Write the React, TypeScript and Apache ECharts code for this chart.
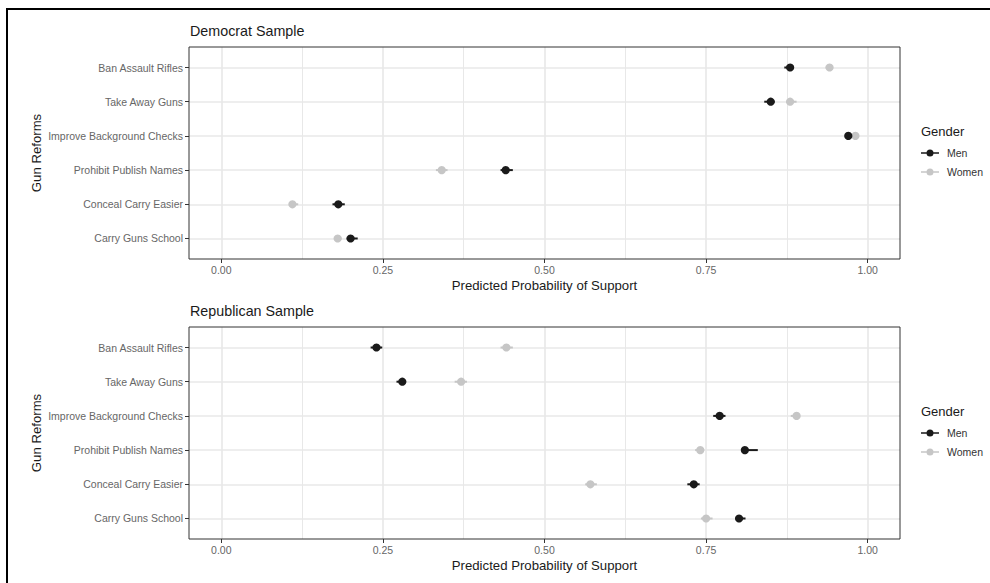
import React, { useEffect, useRef } from "react";
import * as echarts from "echarts";

// Categories, bottom to top
const categories = [
  "Carry Guns School",
  "Conceal Carry Easier",
  "Prohibit Publish Names",
  "Improve Background Checks",
  "Take Away Guns",
  "Ban Assault Rifles",
];
const xTickLabels = ["0.00", "0.25", "0.50", "0.75", "1.00"];
const panelTitles = ["Democrat Sample", "Republican Sample"];
const groups = ["Men", "Women"];

// Democrat sample
const demMenEst = [0.2, 0.181, 0.44, 0.97, 0.85, 0.88];
const demMenLow = [0.194, 0.172, 0.432, 0.965, 0.84, 0.871];
const demMenHigh = [0.211, 0.191, 0.451, 0.975, 0.856, 0.885];
const demWomenEst = [0.18, 0.11, 0.341, 0.981, 0.88, 0.941];
const demWomenLow = [0.175, 0.106, 0.332, 0.977, 0.874, 0.935];
const demWomenHigh = [0.186, 0.119, 0.35, 0.985, 0.89, 0.946];

// Republican sample
const repMenEst = [0.801, 0.731, 0.81, 0.771, 0.28, 0.24];
const repMenLow = [0.796, 0.721, 0.806, 0.761, 0.271, 0.231];
const repMenHigh = [0.811, 0.74, 0.83, 0.78, 0.284, 0.249];
const repWomenEst = [0.75, 0.571, 0.741, 0.89, 0.371, 0.441];
const repWomenLow = [0.742, 0.563, 0.733, 0.881, 0.361, 0.432];
const repWomenHigh = [0.76, 0.581, 0.747, 0.893, 0.38, 0.451];

const MEN_COLOR = "#1a1a1a";
const WOMEN_COLOR = "#c6c6c6";
const GRID_COLOR = "#e8e8e8";
const FONT = "'Liberation Sans', Arial, Helvetica, sans-serif";

function rows(est: number[], low: number[], high: number[]) {
  return categories.map((_, i) => [est[i], i, low[i], high[i]]);
}

function makeRender(color: string) {
  return (params: any, api: any) => {
    const cat = api.value(1);
    const p = api.coord([api.value(0), cat]);
    const a = api.coord([api.value(2), cat]);
    const b = api.coord([api.value(3), cat]);
    return {
      type: "group",
      children: [
        {
          type: "line",
          shape: { x1: a[0], y1: a[1], x2: b[0], y2: b[1] },
          style: { stroke: color, lineWidth: 2 },
        },
        {
          type: "circle",
          shape: { cx: p[0], cy: p[1], r: 4.1 },
          style: { fill: color },
        },
      ],
    };
  };
}

const LEGEND_ICON =
  "path://M0 3.3H18V4.7H0Z M5.5 4A3.5 3.5 0 1 1 12.5 4A3.5 3.5 0 1 1 5.5 4Z";

export default function App() {
  const ref = useRef<HTMLDivElement>(null);

  useEffect(() => {
    if (!ref.current) return;
    const chart = echarts.init(ref.current, null, { renderer: "svg" });

    const panelX0 = 189;
    const panelW = 711;
    const panelH = 212;
    const panelTops = [47, 327];
    const innerX0 = panelX0 + (panelW * 0.05) / 1.1;
    const innerW = panelW / 1.1;
    const innerYOff = (panelH * 0.6) / 6.2;
    const innerH = (panelH * 5) / 6.2;

    const grid: any[] = [];
    const xAxis: any[] = [];
    const yAxis: any[] = [];
    const series: any[] = [];
    const title: any[] = [];
    const legend: any[] = [];

    const panelData = [
      {
        men: rows(demMenEst, demMenLow, demMenHigh),
        women: rows(demWomenEst, demWomenLow, demWomenHigh),
      },
      {
        men: rows(repMenEst, repMenLow, repMenHigh),
        women: rows(repWomenEst, repWomenLow, repWomenHigh),
      },
    ];

    panelTops.forEach((top, p) => {
      const gb = 3 * p;
      // border grid
      grid.push({
        left: panelX0,
        top,
        width: panelW,
        height: panelH,
        show: true,
        borderColor: "#333333",
        borderWidth: 1,
        backgroundColor: "transparent",
        z: 5,
      });
      xAxis.push({ gridIndex: gb, type: "value", show: false, min: 0, max: 1 });
      yAxis.push({ gridIndex: gb, type: "value", show: false, min: 0, max: 1 });

      // x grid (ticks, labels, vertical gridlines)
      grid.push({ left: innerX0, top, width: innerW, height: panelH });
      xAxis.push({
        gridIndex: gb + 1,
        type: "value",
        min: 0,
        max: 1,
        interval: 0.25,
        axisLine: { show: false, onZero: false },
        axisTick: { show: true, length: 4, lineStyle: { color: "#333333", width: 1 } },
        axisLabel: {
          margin: 5,
          fontSize: 10.5,
          color: "#666666",
          fontFamily: FONT,
          formatter: (v: number) => xTickLabels[Math.round(v / 0.25)] ?? "",
        },
        splitLine: { show: true, lineStyle: { color: GRID_COLOR, width: 1.6 } },
        minorTick: { show: false, splitNumber: 2 },
        minorSplitLine: { show: true, lineStyle: { color: GRID_COLOR, width: 1 } },
        name: "Predicted Probability of Support",
        nameLocation: "middle",
        nameGap: 20,
        nameTextStyle: { fontSize: 13.2, color: "#1a1a1a", fontFamily: FONT },
      });
      yAxis.push({ gridIndex: gb + 1, type: "value", show: false, min: 0, max: 1 });

      // data grid (category axis, horizontal gridlines)
      grid.push({
        left: panelX0,
        top: top + innerYOff,
        width: panelW,
        height: innerH,
      });
      xAxis.push({
        gridIndex: gb + 2,
        type: "value",
        show: false,
        min: -0.05,
        max: 1.05,
        axisLine: { onZero: false },
      });
      yAxis.push({
        gridIndex: gb + 2,
        type: "category",
        data: categories,
        boundaryGap: false,
        axisLine: { show: false, onZero: false },
        axisTick: { show: true, length: 4, interval: 0, lineStyle: { color: "#333333", width: 1 } },
        axisLabel: {
          margin: 6,
          interval: 0,
          fontSize: 10.5,
          color: "#666666",
          fontFamily: FONT,
        },
        splitLine: { show: true, interval: 0, lineStyle: { color: GRID_COLOR, width: 1.6 } },
        name: "Gun Reforms",
        nameLocation: "middle",
        nameGap: 146,
        nameMoveOverlap: false,
        nameRotate: 90,
        nameTextStyle: { fontSize: 13.2, color: "#1a1a1a", fontFamily: FONT },
      });

      series.push({
        type: "custom",
        name: "Women",
        xAxisIndex: gb + 2,
        yAxisIndex: gb + 2,
        data: panelData[p].women,
        encode: { x: [0, 2, 3], y: 1 },
        itemStyle: { color: WOMEN_COLOR },
        renderItem: makeRender(WOMEN_COLOR),
        z: 3,
      });
      series.push({
        type: "custom",
        name: "Men",
        xAxisIndex: gb + 2,
        yAxisIndex: gb + 2,
        data: panelData[p].men,
        encode: { x: [0, 2, 3], y: 1 },
        itemStyle: { color: MEN_COLOR },
        renderItem: makeRender(MEN_COLOR),
        z: 4,
      });

      title.push({
        text: panelTitles[p],
        left: 190,
        top: top - 23,
        padding: 0,
        textStyle: { fontSize: 14.3, fontWeight: "normal", color: "#1a1a1a", fontFamily: FONT },
      });
      title.push({
        text: "Gender",
        left: 921,
        top: top + 78,
        padding: 0,
        textStyle: { fontSize: 13, fontWeight: "normal", color: "#1a1a1a", fontFamily: FONT },
      });
      legend.push({
        orient: "vertical",
        left: 921,
        top: top + 100.5,
        padding: 0,
        data: groups,
        selectedMode: false,
        icon: LEGEND_ICON,
        itemWidth: 18,
        itemHeight: 7,
        itemGap: 8,
        textStyle: { fontSize: 10.5, color: "#333333", fontFamily: FONT, padding: [0, 0, 0, 3] },
      });
    });

    chart.setOption({
      animation: false,
      backgroundColor: "#ffffff",
      textStyle: { fontFamily: FONT },
      title,
      legend,
      grid,
      xAxis,
      yAxis,
      series,
      graphic: [
        {
          type: "line",
          shape: { x1: 7, y1: 9, x2: 7, y2: 600 },
          style: { stroke: "#000000", lineWidth: 2 },
          silent: true,
        },
        {
          type: "line",
          shape: { x1: 6, y1: 9, x2: 1000, y2: 9 },
          style: { stroke: "#000000", lineWidth: 2 },
          silent: true,
        },
      ],
    });

    return () => chart.dispose();
  }, []);

  return (
    <div
      ref={ref}
      style={{ position: "absolute", left: 0, top: 0, width: 990, height: 583 }}
    />
  );
}
